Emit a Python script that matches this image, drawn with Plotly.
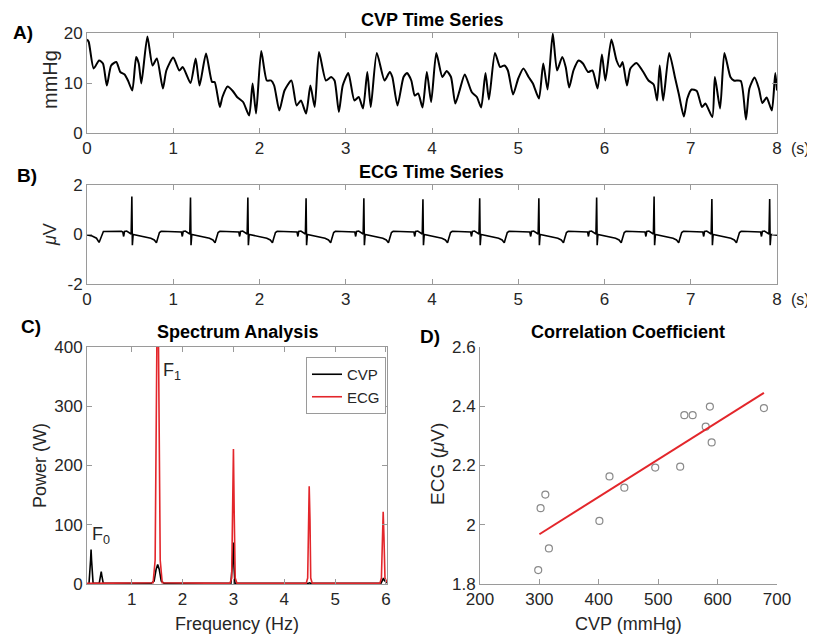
import plotly.graph_objects as go

# The page body has an 8px margin, so the figure is drawn 8px in from the corner.
OFF = 8
W, H = 815 - OFF, 639 - OFF
FONT = "Liberation Sans"
AX = "#9a9a9a"
TXT = "#262626"
RED = "#e3262b"

# ---------------- Panel A: CVP time series (s, mmHg) ----------------
cvp_t = [0.0, 0.02, 0.077, 0.14, 0.185, 0.23, 0.28, 0.34, 0.386, 0.436, 0.475, 0.525, 0.57, 0.60, 0.63,
         0.70, 0.76, 0.81, 0.88, 0.92, 1.0, 1.07, 1.11, 1.20, 1.26, 1.305, 1.38, 1.45, 1.48, 1.54, 1.57,
         1.63, 1.69, 1.74, 1.81, 1.88, 1.92, 1.96, 2.02, 2.085, 2.135, 2.17, 2.23, 2.29, 2.37, 2.43, 2.48,
         2.54, 2.59, 2.64, 2.69, 2.77, 2.83, 2.87, 2.92, 2.965, 3.03, 3.10, 3.15, 3.20, 3.25, 3.29, 3.36,
         3.45, 3.51, 3.54, 3.60, 3.67, 3.71, 3.76, 3.80, 3.84, 3.89, 3.94, 3.99, 4.05, 4.12, 4.17, 4.22,
         4.27, 4.32, 4.38, 4.46, 4.52, 4.57, 4.62, 4.66, 4.73, 4.79, 4.84, 4.88, 4.94, 5.0, 5.06, 5.12,
         5.17, 5.24, 5.29, 5.34, 5.40, 5.45, 5.51, 5.55, 5.59, 5.64, 5.70, 5.75, 5.81, 5.86, 5.92, 5.97,
         6.01, 6.08, 6.14, 6.18, 6.21, 6.26, 6.30, 6.37, 6.45, 6.51, 6.57, 6.61, 6.64, 6.68, 6.75, 6.82,
         6.86, 6.92, 6.96, 7.01, 7.07, 7.13, 7.17, 7.25, 7.28, 7.34, 7.39, 7.46, 7.50, 7.58, 7.64, 7.68,
         7.74, 7.79, 7.83, 7.88, 7.94, 7.98, 8.0]
cvp_v = [18.7, 18.2, 12.9, 14.5, 13.9, 9.5, 13.5, 14.2, 12.2, 11.7, 10.5, 8.5, 15.2, 13.9, 9.9,
         19.3, 13.5, 14.9, 8.9, 12.5, 15.1, 12.5, 13.2, 10.0, 14.9, 9.5, 15.9, 10.2, 10.2, 5.2, 7.2,
         9.3, 8.4, 7.2, 6.2, 3.5, 9.9, 3.9, 16.4, 10.5, 10.5, 9.5, 4.5, 8.5, 10.5, 5.5, 6.5,
         3.9, 9.5, 5.2, 16.2, 10.5, 11.2, 10.5, 4.2, 9.5, 12.0, 6.5, 7.2, 4.9, 12.2, 5.2, 16.0,
         10.5, 12.2, 11.2, 5.5, 11.2, 12.0, 10.5, 7.5, 7.9, 5.1, 12.2, 6.2, 16.0, 11.2, 12.4, 11.2,
         5.9, 8.5, 11.7, 8.2, 7.2, 5.1, 12.0, 6.7, 16.0, 13.2, 13.5, 12.5, 7.7, 10.9, 12.9, 11.2,
         9.9, 6.9, 13.9, 8.7, 19.9, 12.5, 15.2, 13.2, 9.1, 12.5, 14.5, 13.9, 12.2, 12.5, 8.9, 15.7,
         10.5, 18.7, 14.5, 13.2, 14.2, 9.5, 12.9, 14.0, 12.2, 10.5, 9.7, 6.5, 13.5, 6.5, 16.0, 10.9,
         7.9, 3.3, 6.9, 8.7, 8.4, 5.2, 5.9, 3.2, 11.2, 4.9, 16.0, 11.2, 10.5, 10.4, 2.7, 8.9,
         11.1, 8.9, 6.0, 7.1, 4.5, 12.0, 8.5]

# ---------------- Panel B: ECG time series (s, µV) ----------------
ecg_lead_t = [0.0, 0.06, 0.11, 0.14, 0.165, 0.19]
ecg_lead_v = [-0.02, -0.06, -0.15, -0.32, -0.10, 0.12]
ecg_r_times = [0.52, 1.20, 1.865, 2.54, 3.21, 3.895, 4.553, 5.239, 5.909, 6.575, 7.245, 7.915]
ecg_r_peaks = [1.53, 1.49, 1.49, 1.46, 1.46, 1.42, 1.46, 1.46, 1.49, 1.53, 1.43, 1.43]
beat_offsets = [-0.12, -0.105, -0.095, -0.085, -0.06, -0.03, -0.008, 0.0, 0.006, 0.015, 0.06,
                0.15, 0.22, 0.26, 0.285, 0.30, 0.32, 0.34]
beat_values = [0.13, 0.10, -0.08, 0.12, 0.14, 0.06, 0.02, None, -0.43, 0.0, -0.03,
               -0.08, -0.15, -0.22, -0.33, -0.15, 0.08, 0.13]
ecg_end_t, ecg_end_v = 8.0, -0.03

ecg_t = list(ecg_lead_t)
ecg_v = list(ecg_lead_v)
for rt, rp in zip(ecg_r_times, ecg_r_peaks):
    for off, val in zip(beat_offsets, beat_values):
        tt = rt + off
        if tt >= ecg_end_t:
            break
        ecg_t.append(tt)
        ecg_v.append(rp if val is None else val)
ecg_t.append(ecg_end_t)
ecg_v.append(ecg_end_v)

# ---------------- Panel C: spectrum (Hz, W) ----------------
spec_cvp_f = [0.12, 0.16, 0.19, 0.20, 0.21, 0.24, 0.36, 0.39, 0.40, 0.41, 0.44, 1.38, 1.44, 1.48, 1.51,
              1.54, 1.58, 1.64, 2.95, 2.975, 2.99, 3.00, 3.01, 3.03, 4.46, 4.48, 4.50, 4.52, 5.90, 5.93,
              5.95, 5.97, 6.02]
spec_cvp_p = [0, 1, 40, 58, 40, 1, 1, 15, 21, 15, 1, 1, 5, 25, 33, 25, 5, 1, 1, 30, 60, 70, 30, 1,
              1, 2, 2, 1, 1, 6, 10, 6, 2]
spec_ecg_f = [0.12, 1.42, 1.46, 1.48, 1.50, 1.52, 1.54, 1.56, 1.60, 2.93, 2.965, 2.985, 3.00, 3.015,
              3.035, 3.07, 4.43, 4.46, 4.475, 4.49, 4.505, 4.52, 4.55, 5.88, 5.91, 5.93, 5.945, 5.96,
              5.98, 6.02]
spec_ecg_p = [1, 2, 40, 300, 470, 470, 300, 40, 2, 1, 10, 120, 228, 120, 10, 1, 1, 10, 110, 165, 110,
              10, 1, 1, 10, 80, 122, 80, 10, 3]

# ---------------- Panel D: correlation (mmHg, µV) ----------------
corr_cvp = [298, 302, 310, 316, 401, 418, 443, 495, 537, 544, 558, 580, 587, 590, 678]
corr_ecg = [1.847, 2.056, 2.102, 1.920, 2.013, 2.163, 2.125, 2.193, 2.196, 2.370, 2.370, 2.331,
            2.399, 2.278, 2.394]
fit_cvp = [300, 678]
fit_ecg = [1.968, 2.445]


def px_x(p):
    return (p - OFF) / W


def px_y(p):
    return 1 - (p - OFF) / H


fig = go.Figure()
fig.add_trace(go.Scatter(x=cvp_t, y=cvp_v, mode="lines", line=dict(color="black", width=2, shape="spline", smoothing=0.6),
                         xaxis="x", yaxis="y", showlegend=False))
fig.add_trace(go.Scatter(x=ecg_t, y=ecg_v, mode="lines", line=dict(color="black", width=1.6),
                         xaxis="x2", yaxis="y2", showlegend=False))
fig.add_trace(go.Scatter(x=spec_cvp_f, y=spec_cvp_p, mode="lines", name="CVP", line=dict(color="black", width=1.6),
                         xaxis="x3", yaxis="y3"))
fig.add_trace(go.Scatter(x=spec_ecg_f, y=spec_ecg_p, mode="lines", name="ECG", line=dict(color=RED, width=1.6),
                         xaxis="x3", yaxis="y3"))
fig.add_trace(go.Scatter(x=corr_cvp, y=corr_ecg, mode="markers", showlegend=False,
                         marker=dict(symbol="circle-open", size=7, color="#8a8a8a", line=dict(width=1.2)),
                         xaxis="x4", yaxis="y4"))
fig.add_trace(go.Scatter(x=fit_cvp, y=fit_ecg, mode="lines", showlegend=False, line=dict(color=RED, width=2),
                         xaxis="x4", yaxis="y4"))

common = dict(showline=True, linecolor=AX, linewidth=1, ticks="inside", ticklen=5, tickcolor=AX,
              showgrid=False, zeroline=False, tickfont=dict(family=FONT, size=17, color=TXT))

xA = [px_x(87), px_x(777)]
fig.update_layout(
    width=W, height=H, margin=dict(l=0, r=0, t=0, b=0, pad=0, autoexpand=False),
    paper_bgcolor="white", plot_bgcolor="white",
    font=dict(family=FONT, color=TXT),
    xaxis=dict(domain=xA, anchor="y", range=[0, 8], tickvals=list(range(0, 9)), mirror="ticks", **common),
    yaxis=dict(domain=[px_y(133), px_y(33)], anchor="x", range=[0, 20], tickvals=[0, 10, 20], mirror="ticks", **common),
    xaxis2=dict(domain=xA, anchor="y2", range=[0, 8], tickvals=list(range(0, 9)), mirror="ticks", **common),
    yaxis2=dict(domain=[px_y(284), px_y(185)], anchor="x2", range=[-2, 2], tickvals=[-2, 0, 2],
                ticktext=["-2", "0", "2"], mirror="ticks", **common),
    xaxis3=dict(domain=[px_x(87), px_x(387)], anchor="y3", range=[0.12, 6.02], tickvals=[1, 2, 3, 4, 5, 6], mirror="ticks", **common),
    yaxis3=dict(domain=[px_y(584), px_y(347)], anchor="x3", range=[0, 400], tickvals=[0, 100, 200, 300, 400], mirror="ticks", **common),
    xaxis4=dict(domain=[px_x(480), px_x(777)], anchor="y4", range=[200, 700], tickvals=[200, 300, 400, 500, 600, 700], **common),
    yaxis4=dict(domain=[px_y(584), px_y(347)], anchor="x4", range=[1.8, 2.6], tickvals=[1.8, 2.0, 2.2, 2.4, 2.6],
                ticktext=["1.8", "2", "2.2", "2.4", "2.6"], **common),
    legend=dict(x=px_x(386), y=px_y(357), xanchor="right", yanchor="top", bgcolor="white",
                bordercolor=AX, borderwidth=1, font=dict(family=FONT, size=15, color=TXT),
                itemwidth=30, tracegroupgap=0),
)


def ann(text, x, y, size=15, bold=False, angle=0, xanchor="center", color=TXT):
    if bold:
        text = "<b>" + text + "</b>"
    fig.add_annotation(text=text, x=px_x(x), y=px_y(y), xref="paper", yref="paper", showarrow=False,
                       xanchor=xanchor, yanchor="middle", textangle=angle,
                       font=dict(family=FONT, size=size, color=color))


# panel titles
ann("CVP Time Series", 432, 20, size=18, bold=True, color="black")
ann("ECG Time Series", 432, 172, size=18, bold=True, color="black")
ann("Spectrum Analysis", 237, 332, size=18, bold=True, color="black")
ann("Correlation Coefficient", 628, 332, size=18, bold=True, color="black")
# panel letters
ann("A)", 23, 33, size=19, bold=True, color="black")
ann("B)", 27, 175, size=19, bold=True, color="black")
ann("C)", 31, 327, size=19, bold=True, color="black")
ann("D)", 430, 336, size=19, bold=True, color="black")
# units
ann("(s)", 800, 148, size=16)
ann("(s)", 800, 300, size=16)
# axis titles
ann("mmHg", 50, 80, size=20, angle=-90)
ann("<i>μ</i>V", 50, 235, size=18, angle=-90)
ann("Power (W)", 40, 466, size=18, angle=-90)
ann("Frequency (Hz)", 237, 624, size=18)
ann("ECG (<i>μ</i>V)", 437, 464, size=19, angle=-90)
ann("CVP (mmHg)", 628, 624, size=18)
# peak labels
fig.add_annotation(text="F<sub>1</sub>", x=1.8, y=358, xref="x3", yref="y3", showarrow=False,
                   font=dict(family=FONT, size=18, color=TXT))
fig.add_annotation(text="F<sub>0</sub>", x=0.39, y=82, xref="x3", yref="y3", showarrow=False,
                   font=dict(family=FONT, size=18, color=TXT))

fig.write_html("out.html")
